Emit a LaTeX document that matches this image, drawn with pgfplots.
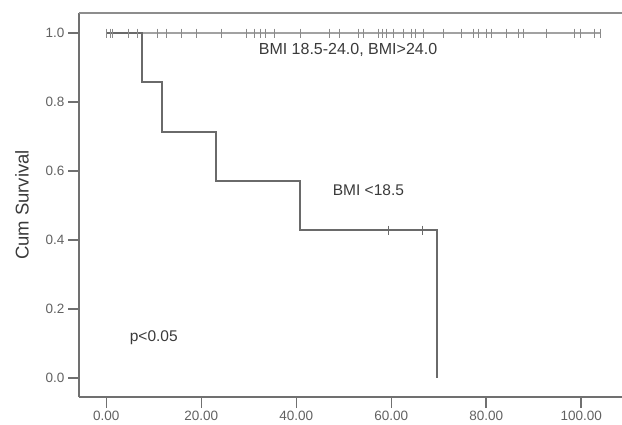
\documentclass[border=0pt]{standalone}
\usepackage{fontspec}
\setmainfont{Liberation Sans}
\usepackage{pgfplots}
\pgfplotsset{compat=1.18}

\definecolor{axgray}{HTML}{707070}
\definecolor{kmdark}{HTML}{6A6A6A}
\definecolor{kmlight}{HTML}{A2A2A2}
\definecolor{txtgray}{HTML}{3A3A3A}

\begin{document}
\begin{tikzpicture}
\begin{axis}[
    scale only axis,
    width=543pt, height=384pt,
    xmin=-5.75, xmax=108.6,
    ymin=-0.055, ymax=1.058,
    axis x line*=bottom,
    axis y line*=left,
    axis line style={axgray, line width=1.6pt},
    xtick={0,20,40,60,80,100},
    ytick={0,0.2,0.4,0.6,0.8,1.0},
    tick align=outside,
    major tick length=11pt,
    tick style={axgray, line width=1.4pt},
    /pgf/number format/assume math mode=true,
    xticklabel style={/pgf/number format/.cd, fixed, fixed zerofill, precision=2},
    yticklabel style={/pgf/number format/.cd, fixed, fixed zerofill, precision=1},
    tick label style={font=\fontsize{13.5}{15}\selectfont, text=txtgray!80},
    clip=false,
]
\coordinate (bl) at (rel axis cs:0,0);
\coordinate (tr) at (rel axis cs:1,1);
\draw[axgray!80, line width=1.3pt] (rel axis cs:0,1) -- (rel axis cs:1,1);
\node[rotate=90, font=\fontsize{18.5}{20}\selectfont, text=txtgray]
    at ([xshift=-57pt]rel axis cs:0,0.5) {Cum Survival};

% BMI 18.5-24.0, BMI>24.0 : no events
\addplot[kmlight, line width=1.3pt] coordinates {(0,1) (104,1)};
\addplot[only marks, mark=|, mark size=4.5pt, kmlight!85!black, mark options={line width=1pt}] coordinates {
    (0.1,1) (0.8,1) (1.2,1) (4.6,1) (6.6,1) (10.8,1) (12.7,1) (15.9,1) (19.0,1)
    (24.2,1) (29.6,1) (31.3,1) (32.5,1) (33.6,1) (35.5,1) (40.8,1) (47.1,1)
    (49.2,1) (53.1,1) (54.1,1) (57.3,1) (58.1,1) (59.1,1) (60.5,1) (62.6,1)
    (64.3,1) (65.2,1) (66.8,1) (71.0,1) (74.9,1) (77.3,1) (78.4,1) (80.1,1)
    (81.2,1) (84.3,1) (86.8,1) (87.8,1) (92.8,1) (98.7,1) (99.8,1) (102.9,1)
    (104.0,1)
};

% BMI <18.5
\addplot[kmdark, line width=2pt, const plot] coordinates {
    (0,1) (7.5,0.857) (11.8,0.714) (23.1,0.571) (40.7,0.429) (69.7,0)
};
\addplot[only marks, mark=|, mark size=4.5pt, kmdark, mark options={line width=1.4pt}] coordinates {
    (59.4,0.429) (66.6,0.429)
};

\node[font=\fontsize{16}{18}\selectfont, text=txtgray] at (axis cs:50.9,0.952) {BMI 18.5-24.0, BMI>24.0};
\node[font=\fontsize{15.5}{17}\selectfont, text=txtgray] at (axis cs:55.2,0.545) {BMI <18.5};
\node[font=\fontsize{15.5}{17}\selectfont, text=txtgray] at (axis cs:10.0,0.116) {p<0.05};
\end{axis}
\pgfresetboundingbox
\path[use as bounding box] ([shift={(-79pt,-27pt)}]bl) rectangle ([shift={(0pt,13pt)}]tr);
\end{tikzpicture}
\end{document}
